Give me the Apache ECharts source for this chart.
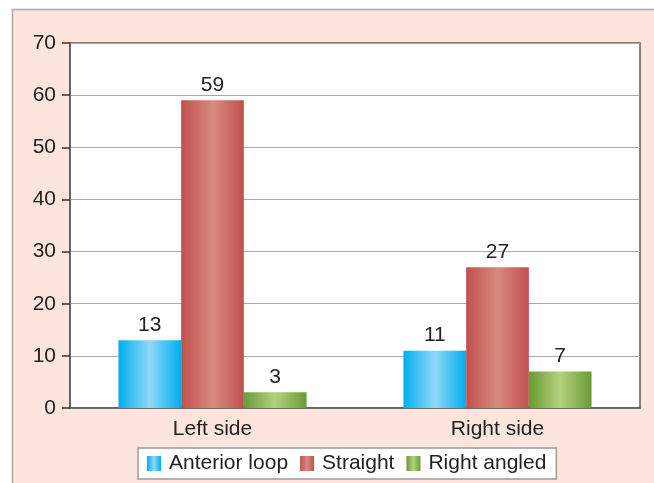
<!DOCTYPE html>
<html>
<head>
<meta charset="utf-8">
<script src="https://cdn.jsdelivr.net/npm/echarts@6/dist/echarts.min.js"></script>
<style>
  html, body { margin: 0; padding: 0; background: #ffffff; }
  #chart { width: 654px; height: 483px; }
</style>
</head>
<body>
<div id="chart"></div>
<script>
const categories = ['Left side', 'Right side'];
const anteriorLoop = [13, 11];
const straight = [59, 27];
const rightAngled = [3, 7];
const yTicks = [0, 10, 20, 30, 40, 50, 60, 70];

// Horizontal gradient with a lighter band down the middle of each bar
function barGradient(edge, mid) {
  return new echarts.graphic.LinearGradient(0, 0, 1, 0, [
    { offset: 0, color: edge },
    { offset: 0.5, color: mid },
    { offset: 1, color: edge }
  ]);
}

const font = 'Liberation Sans, Arial, sans-serif';
const textSize = 21;
const labelStyle = { show: true, position: 'top', color: '#222', fontSize: textSize, fontFamily: font, distance: 5 };

function makeSeries(name, data, edge, mid) {
  return {
    name: name,
    type: 'bar',
    data: data,
    barGap: '0%',
    barCategoryGap: '34%',
    itemStyle: { color: barGradient(edge, mid) },
    label: labelStyle
  };
}

const chart = echarts.init(document.getElementById('chart'));
chart.setOption({
  backgroundColor: '#ffffff',
  animation: false,
  graphic: [{
    type: 'rect',
    z: -10,
    shape: { x: 12.5, y: 9.5, width: 700, height: 500 },
    style: { fill: '#fde4dd', stroke: '#a9a9a9', lineWidth: 1.5 }
  }],
  grid: {
    left: 70, right: 14, top: 43, bottom: 75,
    show: true,
    backgroundColor: '#ffffff',
    borderColor: '#5a5a5a',
    borderWidth: 1.5
  },
  legend: {
    left: 138,
    top: 448,
    icon: 'rect',
    itemWidth: 14,
    itemHeight: 15,
    itemGap: 12,
    padding: [5, 10, 5, 9],
    backgroundColor: '#ffffff',
    borderColor: '#9a9a9a',
    borderWidth: 1.5,
    borderRadius: 0,
    textStyle: { color: '#222', fontSize: textSize, fontFamily: font, lineHeight: 21, padding: [0, 0, 0, 3] },
    data: ['Anterior loop', 'Straight', 'Right angled']
  },
  xAxis: {
    type: 'category',
    data: categories,
    axisLine: { lineStyle: { color: '#5a5a5a', width: 1.5 } },
    axisTick: { length: 8, lineStyle: { color: '#333', width: 1.5 } },
    axisLabel: { color: '#222', fontSize: textSize, fontFamily: font, margin: 11 }
  },
  yAxis: {
    type: 'value',
    min: yTicks[0],
    max: yTicks[yTicks.length - 1],
    interval: 10,
    axisLine: { show: true, lineStyle: { color: '#5a5a5a', width: 1.5 } },
    axisTick: { show: true, length: 8, lineStyle: { color: '#333', width: 1.5 } },
    axisLabel: { color: '#222', fontSize: textSize, fontFamily: font, margin: 14 },
    splitLine: { lineStyle: { color: '#a8a8a8', width: 1 } }
  },
  series: [
    makeSeries('Anterior loop', anteriorLoop, '#00aeef', '#90d8f8'),
    makeSeries('Straight', straight, '#c0504d', '#d88a7e'),
    makeSeries('Right angled', rightAngled, '#6b9a33', '#b2d27e')
  ]
});
</script>
</body>
</html>
